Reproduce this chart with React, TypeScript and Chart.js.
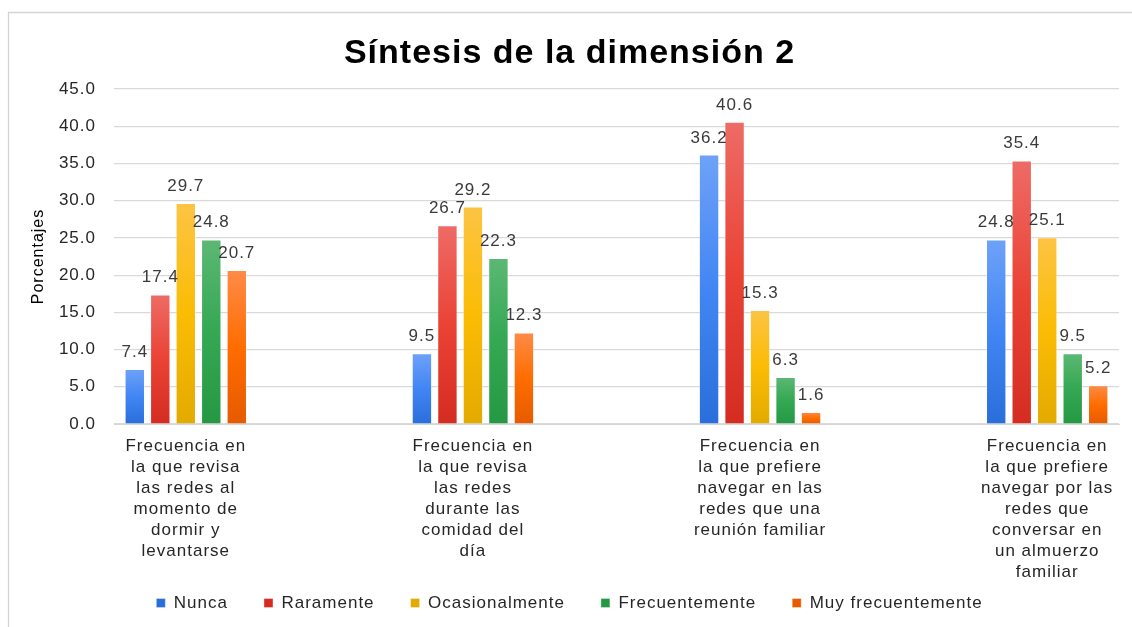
import React, { useEffect, useRef } from "react";
import { Chart, registerables } from "chart.js";

Chart.register(...registerables);

// ---------- data ----------
const categoryLabels: string[][] = [
  ["Frecuencia en", "la que revisa", "las redes al", "momento de", "dormir y", "levantarse"],
  ["Frecuencia en", "la que revisa", "las redes", "durante las", "comidad del", "día"],
  ["Frecuencia en", "la que prefiere", "navegar en las", "redes que una", "reunión familiar"],
  ["Frecuencia en", "la que prefiere", "navegar por las", "redes que", "conversar en", "un almuerzo", "familiar"],
];
const categoryPositions = [0, 1, 2, 3];

const seriesNames = ["Nunca", "Raramente", "Ocasionalmente", "Frecuentemente", "Muy frecuentemente"];
const nunca = [7.4, 9.5, 36.2, 24.8];
const raramente = [17.4, 26.7, 40.6, 35.4];
const ocasionalmente = [29.7, 29.2, 15.3, 25.1];
const frecuentemente = [24.8, 22.3, 6.3, 9.5];
const muyFrecuentemente = [20.7, 12.3, 1.6, 5.2];

const yMin = 0;
const yMax = 45;
const yStep = 5;

const titleText = "Síntesis de la dimensión 2";
const yTitle = "Porcentajes";

// ---------- styles ----------
const FONT = "'Liberation Sans', Arial, Helvetica, sans-serif";
const palette: [string, string, string][] = [
  ["#6ea2f8", "#4285f4", "#2a6edb"],
  ["#ee6b66", "#ea4335", "#d52c22"],
  ["#fcc444", "#fbbc04", "#e3aa00"],
  ["#5cb874", "#34a853", "#259843"],
  ["#ff8b48", "#ff6d01", "#e65b00"],
];

const allSeries = [nunca, raramente, ocasionalmente, frecuentemente, muyFrecuentemente];

const spacingPlugin = {
  id: "spacing",
  beforeUpdate(chart: any) {
    chart.ctx.letterSpacing = "1px";
  },
  beforeLayout(chart: any) {
    chart.ctx.letterSpacing = "1px";
  },
  afterLayout(chart: any) {
    // let the multi-line category labels draw below the legend's top edge (no clipping)
    const xs = chart.scales.x;
    if (xs) {
      xs.bottom = chart.height;
      xs.height = xs.bottom - xs.top;
    }
  },
  beforeDraw(chart: any) {
    const ctx = chart.ctx;
    ctx.letterSpacing = "1px";
    ctx.save();
    ctx.strokeStyle = "#d4d4d4";
    ctx.lineWidth = 1.3;
    ctx.beginPath();
    ctx.moveTo(8.5, 640);
    ctx.lineTo(8.5, 12.5);
    ctx.lineTo(1140, 12.5);
    ctx.stroke();
    ctx.restore();
  },
};

const dataLabelPlugin = {
  id: "dataLabels",
  afterDatasetsDraw(chart: any) {
    const ctx = chart.ctx;
    ctx.save();
    ctx.font = `17px ${FONT}`;
    ctx.fillStyle = "#3a3a3a";
    ctx.textAlign = "center";
    ctx.textBaseline = "alphabetic";
    chart.data.datasets.forEach((ds: any, di: number) => {
      const meta = chart.getDatasetMeta(di);
      meta.data.forEach((el: any, i: number) => {
        const v = ds.data[i].y as number;
        ctx.fillText(v.toFixed(1), el.x, el.y - 12);
      });
    });
    ctx.restore();
  },
};

export default function App() {
  const canvasRef = useRef<HTMLCanvasElement | null>(null);

  useEffect(() => {
    if (!canvasRef.current) return;
    Chart.defaults.font.family = FONT;

    const datasets = allSeries.map((values, si) => {
      const [topC, midC, botC] = palette[si];
      return {
        label: seriesNames[si],
        data: values.map((v, i) => ({ x: categoryPositions[i], y: v })),
        backgroundColor: (ctx: any) => {
          const chart = ctx.chart;
          if (!chart.chartArea || ctx.type !== "data" || !ctx.parsed) return midC;
          const ys = chart.scales.y;
          const top = ys.getPixelForValue(ctx.parsed.y);
          const bottom = ys.getPixelForValue(0);
          if (!isFinite(top) || !isFinite(bottom) || bottom - top < 1) return midC;
          const g = chart.ctx.createLinearGradient(0, top, 0, bottom);
          g.addColorStop(0, topC);
          g.addColorStop(0.5, midC);
          g.addColorStop(1, botC);
          return g;
        },
        borderColor: "rgba(255,255,255,0.35)",
        borderWidth: 1,
        categoryPercentage: 0.444,
        barPercentage: 0.8,
      };
    });

    const chart = new Chart(canvasRef.current, {
      type: "bar",
      data: { datasets },
      plugins: [spacingPlugin, dataLabelPlugin],
      options: {
        animation: false,
        responsive: false,
        layout: { padding: { left: 20, top: 12, right: 13, bottom: 5.5 } },
        plugins: {
          title: {
            display: true,
            text: titleText,
            color: "#000000",
            font: { size: 34, weight: "bold", family: FONT, lineHeight: 1.2 },
            padding: { top: 21.6, bottom: 14.6 },
          },
          legend: {
            position: "bottom",
            labels: {
              boxWidth: 9,
              boxHeight: 9,
              padding: 36,
              color: "#262626",
              font: { size: 17, family: FONT },
            },
          },
          tooltip: { enabled: false },
        },
        scales: {
          x: {
            type: "linear",
            offset: false,
            min: -0.25,
            max: 3.25,
            afterBuildTicks: (scale: any) => {
              scale.ticks = categoryPositions.map((v) => ({ value: v }));
            },
            afterFit: (scale: any) => {
              scale.height = 134.5;
            },
            grid: { display: false, drawTicks: false },
            border: { display: true, color: "#d4d4d4", width: 1 },
            ticks: {
              autoSkip: false,
              maxRotation: 0,
              minRotation: 0,
              padding: 11.5,
              color: "#262626",
              font: { size: 17, family: FONT, lineHeight: 21 / 17 },
              callback: (value: any) => categoryLabels[Number(value)] ?? "",
            },
          },
          y: {
            min: yMin,
            max: yMax,
            afterFit: (scale: any) => {
              scale.width = 94;
            },
            grid: { color: "#d9d9d9", lineWidth: 1.2, drawTicks: false },
            border: { display: false },
            ticks: {
              stepSize: yStep,
              padding: 18,
              color: "#262626",
              font: { size: 17, family: FONT },
              callback: (value: any) => Number(value).toFixed(1),
            },
            title: {
              display: true,
              text: yTitle,
              color: "#000000",
              font: { size: 16, family: FONT },
              padding: { top: 9, bottom: 0 },
            },
          },
        },
      },
    } as any);

    return () => chart.destroy();
  }, []);

  return (
    <div style={{ position: "absolute", left: 0, top: 0, width: 1132, height: 627, background: "#ffffff" }}>
      <canvas ref={canvasRef} width={1132} height={627} style={{ display: "block" }} />
    </div>
  );
}
